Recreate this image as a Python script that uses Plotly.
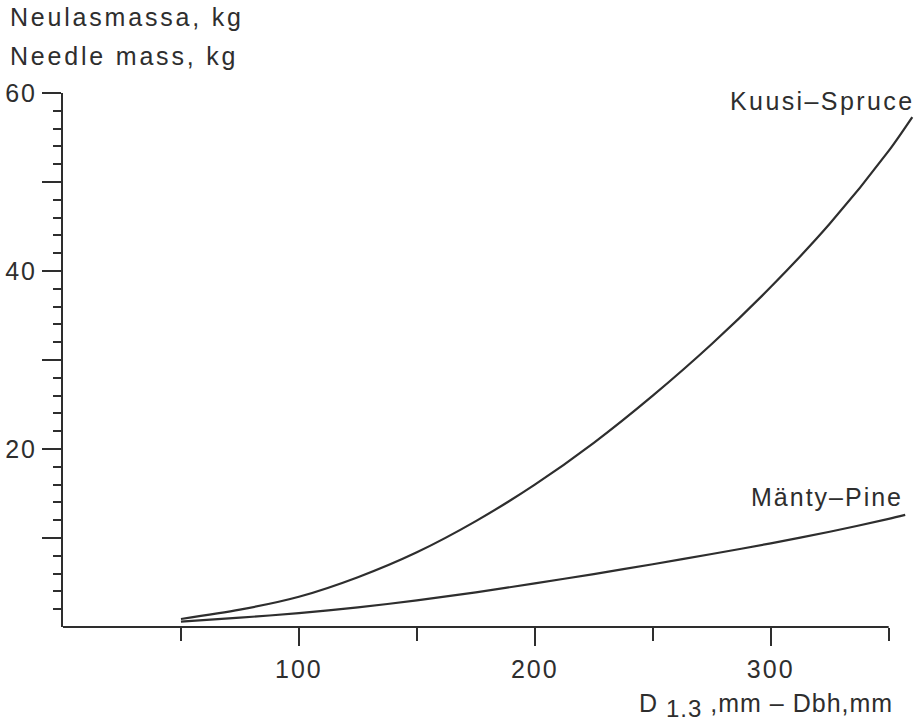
import plotly.graph_objects as go

# ---- data ----
dbh_spruce = [50, 75, 100, 125, 150, 175, 200, 225, 250, 275, 300, 325, 350, 360]
mass_spruce = [0.9, 1.95, 3.4, 5.6, 8.4, 11.9, 16.0, 20.7, 26.0, 31.8, 38.2, 45.3, 53.5, 57.3]

dbh_pine = [50, 75, 100, 125, 150, 175, 200, 225, 250, 275, 300, 325, 350, 357]
mass_pine = [0.6, 1.05, 1.55, 2.2, 3.0, 3.9, 4.9, 5.95, 7.05, 8.2, 9.4, 10.7, 12.15, 12.6]

x_major_ticks = [100, 200, 300]
x_major_labels = ["100", "200", "300"]
x_minor_ticks = [50, 150, 250, 350]
y_major_ticks = [10, 20, 30, 40, 50, 60]
y_major_labels = ["", "20", "", "40", "", "60"]
y_minor_ticks = [v for v in range(2, 60, 2) if v % 10 != 0]

label_spruce = "Kuusi–Spruce"
label_pine = "Mänty–Pine"
ytitle1 = "Neulasmassa, kg"
ytitle2 = "Needle mass, kg"
xtitle = "D <sub><span style='font-size:24px'>1.3</span></sub> ,mm – Dbh,mm"

INK = "#2e2e2e"
FONT = "Liberation Sans, Arial, Helvetica, sans-serif"
FS = 25


def ls(t, sp=2):
    return f"<span style='letter-spacing:{sp}px'>{t}</span>"


fig = go.Figure()
fig.add_trace(go.Scatter(x=dbh_spruce, y=mass_spruce, mode="lines",
                         line=dict(color=INK, width=2.2, shape="spline", smoothing=0.8),
                         showlegend=False, hoverinfo="skip"))
fig.add_trace(go.Scatter(x=dbh_pine, y=mass_pine, mode="lines",
                         line=dict(color=INK, width=2.2, shape="spline", smoothing=0.8),
                         showlegend=False, hoverinfo="skip"))

# x axis line only from 0 to the last tick (350)
fig.add_shape(type="line", xref="x", yref="paper",
              x0=0, x1=x_minor_ticks[-1], y0=0, y1=0,
              line=dict(color=INK, width=2))

fig.update_layout(
    width=918, height=728,
    margin=dict(l=63, r=1, t=93, b=101),
    plot_bgcolor="white", paper_bgcolor="white",
    font=dict(family=FONT, size=FS, color=INK),
    xaxis=dict(
        range=[0, 362], showgrid=False, zeroline=False, showline=False,
        ticks="outside", tickmode="array",
        tickvals=x_major_ticks, ticktext=[ls(t) for t in x_major_labels],
        ticklen=18, tickwidth=2, tickcolor=INK,
        ticklabelstandoff=2,
        tickfont=dict(family=FONT, size=FS, color=INK),
        minor=dict(tickmode="array", tickvals=x_minor_ticks, ticks="outside",
                   ticklen=13, tickwidth=2, tickcolor=INK, showgrid=False),
    ),
    yaxis=dict(
        range=[0, 60], showgrid=False, zeroline=False,
        showline=True, linewidth=2, linecolor=INK,
        ticks="outside", tickmode="array",
        tickvals=y_major_ticks, ticktext=[ls(t) for t in y_major_labels],
        ticklen=19, tickwidth=2, tickcolor=INK,
        tickfont=dict(family=FONT, size=FS, color=INK),
        minor=dict(tickmode="array", tickvals=y_minor_ticks, ticks="outside",
                   ticklen=8, tickwidth=2, tickcolor=INK, showgrid=False),
    ),
    annotations=[
        dict(text=ls(ytitle1, 2.8), xref="paper", yref="paper",
             x=(8 - 63) / 854, y=(627 - 17) / 534,
             xanchor="left", yanchor="middle", showarrow=False,
             font=dict(family=FONT, size=FS, color=INK)),
        dict(text=ls(ytitle2, 2.8), xref="paper", yref="paper",
             x=(8 - 63) / 854, y=(627 - 56) / 534,
             xanchor="left", yanchor="middle", showarrow=False,
             font=dict(family=FONT, size=FS, color=INK)),
        dict(text=ls(label_spruce, 2.4), xref="x", yref="y",
             x=dbh_spruce[-1], y=mass_spruce[-1],
             xanchor="right", yanchor="bottom", showarrow=False,
             xshift=4, yshift=0,
             font=dict(family=FONT, size=FS, color=INK)),
        dict(text=ls(label_pine), xref="x", yref="y",
             x=dbh_pine[-1], y=mass_pine[-1],
             xanchor="right", yanchor="bottom", showarrow=False,
             xshift=0, yshift=2,
             font=dict(family=FONT, size=FS, color=INK)),
        dict(text=ls(xtitle, 1),
             xref="paper", yref="paper",
             x=(895 - 63) / 854, y=(627 - 705) / 534,
             xanchor="right", yanchor="middle", showarrow=False,
             font=dict(family=FONT, size=FS, color=INK)),
    ],
)

fig.write_html("out.html", config={"displayModeBar": False},
               post_script="document.body.style.margin='0px';")
